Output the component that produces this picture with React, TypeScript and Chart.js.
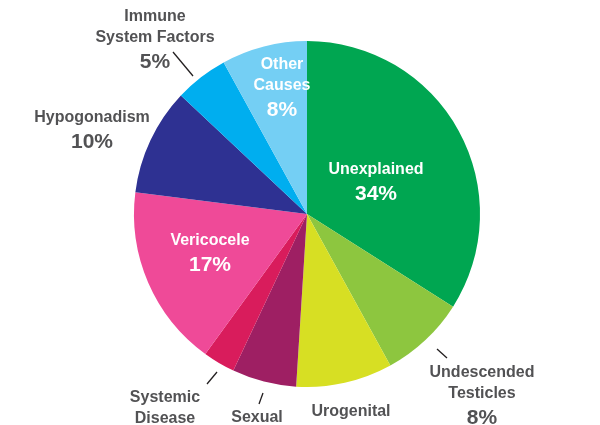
import React, { useEffect, useRef } from "react";
import { Chart, registerables } from "chart.js";

Chart.register(...registerables);

const categories = [
  "Unexplained",
  "Undescended Testicles",
  "Urogenital",
  "Sexual",
  "Systemic Disease",
  "Vericocele",
  "Hypogonadism",
  "Immune System Factors",
  "Other Causes",
];
const values = [34, 8, 9, 6, 3, 17, 10, 5, 8];
const colors = [
  "#00A651",
  "#8DC63F",
  "#D7DF23",
  "#9E1F63",
  "#D91C5C",
  "#EF4A98",
  "#2E3192",
  "#00AEEF",
  "#74CFF4",
];
const percentLabels = ["34%", "8%", "", "", "", "17%", "10%", "5%", "8%"];

type Lab = {
  lines: string[];
  pct: string;
  dx: number;
  dy: number;
  white: boolean;
  lead?: [number, number, number, number];
};
const labelLayout: Lab[] = [
  { lines: ["Unexplained"], pct: percentLabels[0], dx: 69, dy: -44, white: true },
  { lines: ["Undescended", "Testicles"], pct: percentLabels[1], dx: 175, dy: 159, white: false, lead: [130, 135, 140, 144] },
  { lines: ["Urogenital"], pct: "", dx: 44, dy: 198, white: false },
  { lines: ["Sexual"], pct: "", dx: -50, dy: 204, white: false, lead: [-44, 179, -48, 190] },
  { lines: ["Systemic", "Disease"], pct: "", dx: -142, dy: 184, white: false, lead: [-90, 158, -100, 170] },
  { lines: ["Vericocele"], pct: percentLabels[5], dx: -97, dy: 27, white: true },
  { lines: ["Hypogonadism"], pct: percentLabels[6], dx: -215, dy: -96, white: false },
  { lines: ["Immune", "System Factors"], pct: percentLabels[7], dx: -152, dy: -197, white: false, lead: [-134, -162, -114, -138] },
  { lines: ["Other", "Causes"], pct: percentLabels[8], dx: -25, dy: -149, white: true },
];

const labelPlugin = {
  id: "pieLabels",
  afterDatasetsDraw(chart: any) {
    const meta = chart.getDatasetMeta(0);
    const arc = meta.data[0];
    if (!arc) return;
    const cx = arc.x;
    const cy = arc.y;
    const ctx = chart.ctx;
    ctx.save();
    ctx.textAlign = "center";
    ctx.textBaseline = "middle";
    labelLayout.forEach((l) => {
      const col = l.white ? "#ffffff" : "#525254";
      ctx.fillStyle = col;
      let y = cy + l.dy;
      const x = cx + l.dx;
      ctx.font = "bold 16px 'Liberation Sans', Arial, sans-serif";
      l.lines.forEach((t) => {
        ctx.fillText(t, x, y);
        y += 21;
      });
      if (l.pct) {
        ctx.font = "bold 21px 'Liberation Sans', Arial, sans-serif";
        ctx.fillText(l.pct, x, y + 3);
      }
      if (l.lead) {
        ctx.strokeStyle = "#231F20";
        ctx.lineWidth = 1.3;
        ctx.beginPath();
        ctx.moveTo(cx + l.lead[0], cy + l.lead[1]);
        ctx.lineTo(cx + l.lead[2], cy + l.lead[3]);
        ctx.stroke();
      }
    });
    ctx.restore();
  },
};

export default function App() {
  const ref = useRef<HTMLCanvasElement | null>(null);
  useEffect(() => {
    document.body.style.margin = "0";
    if (!ref.current) return;
    const chart = new Chart(ref.current, {
      type: "pie",
      data: {
        labels: categories,
        datasets: [
          {
            data: values,
            backgroundColor: colors,
            borderWidth: 0,
          },
        ],
      },
      options: {
        animation: false,
        responsive: false,
        layout: { padding: { top: 41, bottom: 38, left: 134, right: 120 } },
        plugins: {
          legend: { display: false },
          tooltip: { enabled: false },
        },
      },
      plugins: [labelPlugin],
    });
    return () => chart.destroy();
  }, []);
  return (
    <div style={{ width: 600, height: 425, background: "#fff" }}>
      <canvas ref={ref} width={600} height={425} />
    </div>
  );
}
